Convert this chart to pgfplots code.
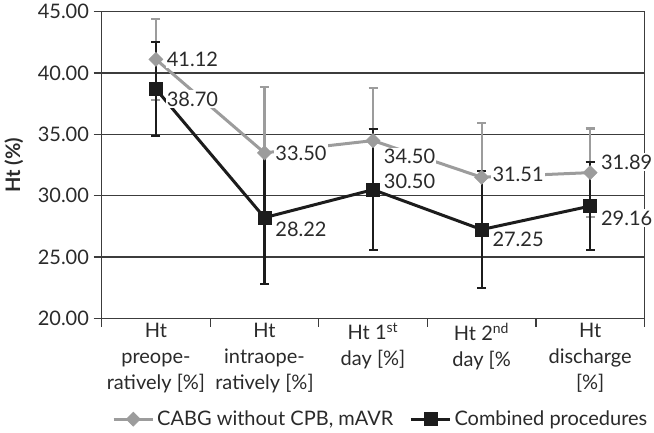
\documentclass[border=0pt]{standalone}
\usepackage{fontspec}
\setmainfont{Lato}
\usepackage{pgfplots}
\usepackage{pgfplotstable}
\pgfplotsset{compat=1.18}
\definecolor{cabggray}{HTML}{9C9C9C}
\definecolor{combblack}{HTML}{1C1C1C}
\definecolor{gridc}{HTML}{3C3C3C}
\definecolor{textc}{HTML}{2A2A2A}

% x, mean, sd
\pgfplotstableread{
x y err
1 41.12 3.30
2 33.50 5.40
3 34.50 4.30
4 31.51 4.40
5 31.89 3.60
}\cabg
\pgfplotstableread{
x y err
1 38.70 3.85
2 28.22 5.40
3 30.50 4.95
4 27.25 4.75
5 29.16 3.60
}\combined

\pgfplotsset{
  vallabel/.style={draw=none, forget plot, mark=none,
    nodes near coords={\pgfmathprintnumber[fixed, fixed zerofill, precision=2, assume math mode=true]{\pgfplotspointmeta}},
    every node near coord/.append style={anchor=west, xshift=7pt, yshift=#1,
      fill=white, inner sep=1pt, text=textc}},
}

\begin{document}
\begin{tikzpicture}[font=\fontsize{15}{19.5}\selectfont]
\begin{axis}[
  scale only axis, width=407pt, height=230pt,
  xmin=0.5, xmax=5.5, ymin=20, ymax=45,
  ytick={20,25,...,45},
  xtick={0.5,1.5,...,5.5}, xticklabels={},
  extra x ticks={1,2,3,4,5},
  extra x tick labels={{Ht\\preope-\\ratively [\%]},{Ht\\intraope-\\ratively [\%]},
    {Ht 1\textsuperscript{st}\\day [\%]},{Ht 2\textsuperscript{nd}\\day [\%},{Ht\\discharge\\{[\%]}}},
  extra x tick style={major tick length=0pt},
  x tick label style={align=center, text=textc},
  y tick label style={text=textc, /pgf/number format/.cd, fixed, fixed zerofill, precision=2, assume math mode=true},
  ymajorgrids, grid style={gridc, line width=1pt},
  axis line style={gridc, line width=1pt},
  tick style={gridc, line width=1pt},
  tick align=outside, major tick length=6pt,
  xtick pos=bottom, ytick pos=left,
  ylabel={\bfseries Ht (\%)},
  ylabel style={yshift=4pt},
  label style={text=textc},
  clip=false,
  legend style={draw=none, at={(0.5,0)}, anchor=north, xshift=6pt, yshift=-65pt, text=textc,
    /tikz/every even column/.append style={column sep=10pt}},
  legend columns=2,
  legend image code/.code={\draw[mark repeat=2,mark phase=2] plot coordinates {(0cm,0cm) (0.52cm,0cm) (1.04cm,0cm)};},
]
% error bars first
\addplot[draw=none, forget plot, error bars/.cd, y dir=both, y explicit,
  error bar style={cabggray, line width=1.6pt},
  error mark options={rotate=90, cabggray, mark size=3.4pt, line width=1.6pt}]
  table[x=x, y=y, y error=err] {\cabg};
\addplot[draw=none, forget plot, error bars/.cd, y dir=both, y explicit,
  error bar style={combblack, line width=1.6pt},
  error mark options={rotate=90, combblack, mark size=3.4pt, line width=1.6pt}]
  table[x=x, y=y, y error=err] {\combined};
% series
\addplot[cabggray, line width=2.25pt, mark=square*, mark size=3.7pt,
  mark options={rotate=45, solid, fill=cabggray, line width=0.5pt}]
  table[x=x, y=y] {\cabg};
\addlegendentry{CABG without CPB, mAVR}
\addplot[combblack, line width=2.25pt, mark=square*, mark size=4.9pt,
  mark options={solid, fill=combblack, line width=0.5pt}]
  table[x=x, y=y] {\combined};
\addlegendentry{Combined procedures}
% value labels
\addplot[vallabel=0pt] coordinates {(1,41.12) (2,33.50)};
\addplot[vallabel=-12pt] coordinates {(3,34.50)};
\addplot[vallabel=2pt] coordinates {(4,31.51)};
\addplot[vallabel=8pt] coordinates {(5,31.89)};
\addplot[vallabel=-7.5pt] coordinates {(1,38.70) (4,27.25)};
\addplot[vallabel=-9pt] coordinates {(2,28.22) (5,29.16)};
\addplot[vallabel=6pt] coordinates {(3,30.50)};
\end{axis}
\end{tikzpicture}
\end{document}
